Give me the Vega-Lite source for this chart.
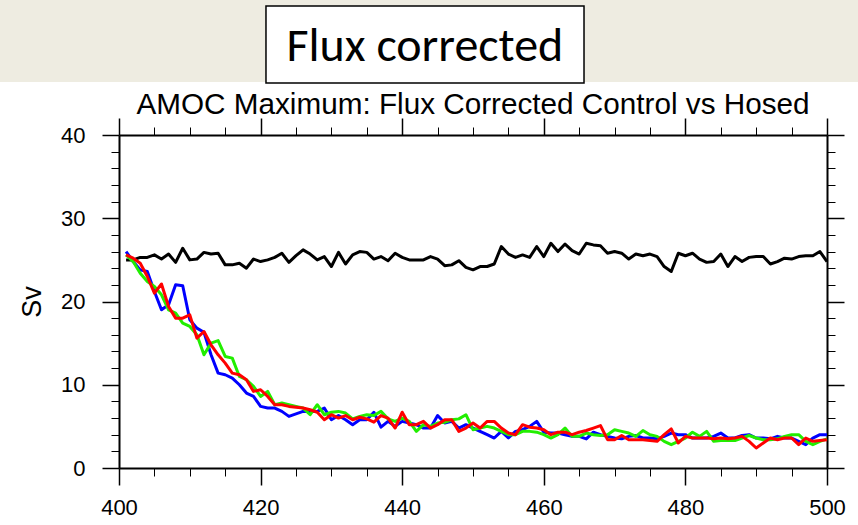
{
  "$schema": "https://vega.github.io/schema/vega-lite/v6.json",
  "autosize": "none",
  "padding": {"left": 119, "top": 135, "right": 31, "bottom": 57},
  "width": 708,
  "height": 333,
  "background": "white",
  "config": {"view": {"stroke": null}},
  "data": {"values": [
    {"year":401,"control":25.0,"hosed1":26.0,"hosed2":25.6,"hosed3":25.6},
    {"year":402,"control":25.0,"hosed1":24.8,"hosed2":24.8,"hosed3":25.2},
    {"year":403,"control":25.3,"hosed1":23.8,"hosed2":23.4,"hosed3":24.6},
    {"year":404,"control":25.3,"hosed1":23.6,"hosed2":22.4,"hosed3":23.0},
    {"year":405,"control":25.6,"hosed1":21.2,"hosed2":21.8,"hosed3":21.0},
    {"year":406,"control":25.1,"hosed1":19.0,"hosed2":20.8,"hosed3":22.1},
    {"year":407,"control":25.7,"hosed1":19.6,"hosed2":19.0,"hosed3":19.4},
    {"year":408,"control":24.7,"hosed1":22.0,"hosed2":18.6,"hosed3":18.0},
    {"year":409,"control":26.4,"hosed1":21.9,"hosed2":17.4,"hosed3":18.0},
    {"year":410,"control":25.0,"hosed1":17.8,"hosed2":17.0,"hosed3":18.4},
    {"year":411,"control":25.1,"hosed1":16.8,"hosed2":16.0,"hosed3":15.6},
    {"year":412,"control":25.9,"hosed1":16.3,"hosed2":13.6,"hosed3":16.4},
    {"year":413,"control":25.7,"hosed1":13.6,"hosed2":15.0,"hosed3":14.8},
    {"year":414,"control":25.8,"hosed1":11.4,"hosed2":15.3,"hosed3":13.6},
    {"year":415,"control":24.4,"hosed1":11.2,"hosed2":13.4,"hosed3":12.6},
    {"year":416,"control":24.4,"hosed1":10.8,"hosed2":13.2,"hosed3":11.4},
    {"year":417,"control":24.6,"hosed1":10.0,"hosed2":11.0,"hosed3":11.2},
    {"year":418,"control":24.0,"hosed1":9.0,"hosed2":10.6,"hosed3":10.6},
    {"year":419,"control":25.1,"hosed1":8.6,"hosed2":9.8,"hosed3":9.2},
    {"year":420,"control":24.8,"hosed1":7.4,"hosed2":8.6,"hosed3":9.4},
    {"year":421,"control":25.0,"hosed1":7.2,"hosed2":9.2,"hosed3":8.6},
    {"year":422,"control":25.3,"hosed1":7.2,"hosed2":7.6,"hosed3":7.6},
    {"year":423,"control":25.8,"hosed1":6.8,"hosed2":7.8,"hosed3":7.6},
    {"year":424,"control":24.7,"hosed1":6.2,"hosed2":7.6,"hosed3":7.4},
    {"year":425,"control":25.5,"hosed1":6.5,"hosed2":7.4,"hosed3":7.3},
    {"year":426,"control":26.2,"hosed1":6.8,"hosed2":7.2,"hosed3":7.2},
    {"year":427,"control":25.7,"hosed1":6.8,"hosed2":6.4,"hosed3":7.0},
    {"year":428,"control":25.0,"hosed1":6.8,"hosed2":7.6,"hosed3":6.7},
    {"year":429,"control":25.4,"hosed1":7.2,"hosed2":6.4,"hosed3":5.8},
    {"year":430,"control":24.2,"hosed1":5.8,"hosed2":6.7,"hosed3":6.4},
    {"year":431,"control":25.9,"hosed1":6.3,"hosed2":6.8,"hosed3":6.0},
    {"year":432,"control":24.5,"hosed1":5.8,"hosed2":6.6,"hosed3":6.3},
    {"year":433,"control":25.6,"hosed1":5.2,"hosed2":5.9,"hosed3":5.8},
    {"year":434,"control":26.0,"hosed1":5.8,"hosed2":6.2,"hosed3":6.1},
    {"year":435,"control":25.9,"hosed1":5.8,"hosed2":6.4,"hosed3":5.9},
    {"year":436,"control":25.1,"hosed1":6.7,"hosed2":6.3,"hosed3":5.5},
    {"year":437,"control":25.4,"hosed1":4.9,"hosed2":6.8,"hosed3":6.3},
    {"year":438,"control":24.9,"hosed1":5.6,"hosed2":5.9,"hosed3":6.0},
    {"year":439,"control":25.8,"hosed1":5.0,"hosed2":5.6,"hosed3":4.8},
    {"year":440,"control":25.3,"hosed1":5.6,"hosed2":6.0,"hosed3":6.7},
    {"year":441,"control":25.0,"hosed1":5.4,"hosed2":5.6,"hosed3":5.2},
    {"year":442,"control":25.0,"hosed1":5.2,"hosed2":4.4,"hosed3":5.2},
    {"year":443,"control":25.0,"hosed1":4.8,"hosed2":5.2,"hosed3":5.6},
    {"year":444,"control":25.4,"hosed1":4.8,"hosed2":5.0,"hosed3":4.8},
    {"year":445,"control":25.1,"hosed1":6.3,"hosed2":5.4,"hosed3":5.2},
    {"year":446,"control":24.3,"hosed1":5.4,"hosed2":5.5,"hosed3":5.8},
    {"year":447,"control":24.4,"hosed1":5.6,"hosed2":5.8,"hosed3":5.8},
    {"year":448,"control":24.9,"hosed1":4.8,"hosed2":5.9,"hosed3":4.4},
    {"year":449,"control":24.1,"hosed1":5.2,"hosed2":6.4,"hosed3":4.8},
    {"year":450,"control":23.8,"hosed1":4.8,"hosed2":4.6,"hosed3":5.4},
    {"year":451,"control":24.2,"hosed1":4.4,"hosed2":4.8,"hosed3":4.8},
    {"year":452,"control":24.2,"hosed1":4.0,"hosed2":5.0,"hosed3":5.6},
    {"year":453,"control":24.5,"hosed1":3.6,"hosed2":4.8,"hosed3":5.6},
    {"year":454,"control":26.6,"hosed1":4.4,"hosed2":4.4,"hosed3":4.8},
    {"year":455,"control":25.7,"hosed1":3.6,"hosed2":4.0,"hosed3":4.2},
    {"year":456,"control":25.3,"hosed1":4.4,"hosed2":4.0,"hosed3":4.0},
    {"year":457,"control":25.6,"hosed1":4.6,"hosed2":4.4,"hosed3":5.2},
    {"year":458,"control":25.3,"hosed1":5.0,"hosed2":4.4,"hosed3":4.9},
    {"year":459,"control":26.6,"hosed1":5.6,"hosed2":4.3,"hosed3":4.8},
    {"year":460,"control":25.4,"hosed1":4.3,"hosed2":4.0,"hosed3":4.6},
    {"year":461,"control":27.0,"hosed1":4.2,"hosed2":3.6,"hosed3":4.0},
    {"year":462,"control":26.0,"hosed1":4.2,"hosed2":4.0,"hosed3":4.3},
    {"year":463,"control":26.9,"hosed1":4.0,"hosed2":4.8,"hosed3":4.3},
    {"year":464,"control":26.1,"hosed1":3.8,"hosed2":3.8,"hosed3":4.0},
    {"year":465,"control":25.7,"hosed1":3.8,"hosed2":3.8,"hosed3":4.3},
    {"year":466,"control":27.0,"hosed1":3.5,"hosed2":4.2,"hosed3":4.5},
    {"year":467,"control":26.8,"hosed1":4.3,"hosed2":4.0,"hosed3":4.8},
    {"year":468,"control":26.7,"hosed1":4.0,"hosed2":3.9,"hosed3":5.1},
    {"year":469,"control":25.8,"hosed1":3.8,"hosed2":4.0,"hosed3":3.4},
    {"year":470,"control":26.0,"hosed1":3.6,"hosed2":4.6,"hosed3":3.4},
    {"year":471,"control":25.8,"hosed1":3.5,"hosed2":4.4,"hosed3":3.9},
    {"year":472,"control":25.1,"hosed1":3.8,"hosed2":4.2,"hosed3":3.4},
    {"year":473,"control":25.7,"hosed1":3.9,"hosed2":3.8,"hosed3":3.4},
    {"year":474,"control":25.5,"hosed1":3.6,"hosed2":4.5,"hosed3":3.4},
    {"year":475,"control":25.7,"hosed1":3.6,"hosed2":4.0,"hosed3":3.3},
    {"year":476,"control":25.4,"hosed1":3.5,"hosed2":3.8,"hosed3":3.2},
    {"year":477,"control":24.2,"hosed1":3.8,"hosed2":3.2,"hosed3":4.0},
    {"year":478,"control":23.6,"hosed1":4.2,"hosed2":2.8,"hosed3":4.7},
    {"year":479,"control":25.8,"hosed1":4.0,"hosed2":3.2,"hosed3":3.0},
    {"year":480,"control":25.5,"hosed1":4.0,"hosed2":3.6,"hosed3":3.8},
    {"year":481,"control":25.8,"hosed1":3.6,"hosed2":4.3,"hosed3":3.6},
    {"year":482,"control":25.1,"hosed1":3.6,"hosed2":3.8,"hosed3":3.6},
    {"year":483,"control":24.7,"hosed1":3.6,"hosed2":4.4,"hosed3":3.6},
    {"year":484,"control":24.8,"hosed1":3.8,"hosed2":3.2,"hosed3":3.5},
    {"year":485,"control":25.7,"hosed1":4.2,"hosed2":3.3,"hosed3":3.6},
    {"year":486,"control":24.2,"hosed1":3.6,"hosed2":3.3,"hosed3":3.5},
    {"year":487,"control":25.4,"hosed1":3.6,"hosed2":3.3,"hosed3":3.6},
    {"year":488,"control":24.8,"hosed1":3.9,"hosed2":3.6,"hosed3":3.8},
    {"year":489,"control":25.3,"hosed1":4.0,"hosed2":3.9,"hosed3":3.2},
    {"year":490,"control":25.4,"hosed1":3.6,"hosed2":3.6,"hosed3":2.4},
    {"year":491,"control":25.4,"hosed1":3.6,"hosed2":3.4,"hosed3":3.0},
    {"year":492,"control":24.5,"hosed1":3.5,"hosed2":3.4,"hosed3":3.6},
    {"year":493,"control":24.8,"hosed1":3.8,"hosed2":3.5,"hosed3":3.4},
    {"year":494,"control":25.2,"hosed1":3.6,"hosed2":3.8,"hosed3":3.6},
    {"year":495,"control":25.1,"hosed1":3.6,"hosed2":4.0,"hosed3":3.6},
    {"year":496,"control":25.4,"hosed1":3.2,"hosed2":4.0,"hosed3":2.8},
    {"year":497,"control":25.5,"hosed1":2.8,"hosed2":3.2,"hosed3":3.6},
    {"year":498,"control":25.5,"hosed1":3.6,"hosed2":2.8,"hosed3":3.2},
    {"year":499,"control":26.0,"hosed1":4.0,"hosed2":3.2,"hosed3":3.3},
    {"year":500,"control":24.8,"hosed1":4.0,"hosed2":3.5,"hosed3":3.4}
  ]},
  "layer": [
    {
      "data": {"values": [{"part": "band"}]},
      "mark": {"type": "rect", "fill": "#EEECE1", "clip": false},
      "encoding": {
        "x": {"datum": 383, "type": "quantitative", "scale": {"domain": [400, 500], "nice": false, "zero": false}, "axis": null},
        "x2": {"datum": 505},
        "y": {"datum": 57, "type": "quantitative", "scale": {"domain": [0, 40], "nice": false}, "axis": null},
        "y2": {"datum": 46.37}
      }
    },
    {
      "data": {"values": [{"part": "box"}]},
      "mark": {"type": "rect", "fill": "white", "stroke": "black", "strokeWidth": 1.5, "clip": false},
      "encoding": {
        "x": {"datum": 420.76, "type": "quantitative", "axis": null},
        "x2": {"datum": 465.68},
        "y": {"datum": 55.5, "type": "quantitative", "axis": null},
        "y2": {"datum": 46.25}
      }
    },
    {
      "data": {"values": [{"label": "Flux corrected"}]},
      "mark": {"type": "text", "font": "Carlito, Lato", "fontSize": 48, "color": "black", "align": "center", "baseline": "middle", "clip": false},
      "encoding": {
        "x": {"datum": 443.2, "type": "quantitative", "axis": null},
        "y": {"datum": 50.6, "type": "quantitative", "axis": null},
        "text": {"field": "label"}
      }
    },
    {
      "data": {"values": [{"label": "AMOC Maximum: Flux Corrected Control vs Hosed"}]},
      "mark": {"type": "text", "font": "Liberation Sans", "fontSize": 29.7, "color": "black", "align": "center", "baseline": "alphabetic", "clip": false},
      "encoding": {
        "x": {"datum": 450, "type": "quantitative", "axis": null},
        "y": {"datum": 42.52, "type": "quantitative", "axis": null},
        "text": {"field": "label"}
      }
    },
    {
      "transform": [{"fold": ["control", "hosed1", "hosed2", "hosed3"], "as": ["run", "sv"]}],
      "mark": {"type": "line", "strokeWidth": 3, "strokeJoin": "round"},
      "encoding": {
        "x": {"field": "year", "type": "quantitative",
          "axis": {"orient": "bottom", "values": [400, 420, 440, 460, 480, 500], "format": "d", "grid": false, "title": null, "domainColor": "black", "domainWidth": 2, "tickColor": "black", "tickWidth": 1.5, "tickSize": 17, "labelFont": "Liberation Sans", "labelFontSize": 22, "labelColor": "black", "labelPadding": 12, "labelFlush": false, "labelOverlap": false}},
        "y": {"field": "sv", "type": "quantitative",
          "axis": {"orient": "left", "values": [0, 10, 20, 30, 40], "grid": false, "title": "Sv", "titleFont": "Liberation Sans", "titleFontSize": 27, "titleFontWeight": "normal", "titleColor": "black", "titlePadding": 14, "domainColor": "black", "domainWidth": 2, "tickColor": "black", "tickWidth": 1.5, "tickSize": 17, "labelFont": "Liberation Sans", "labelFontSize": 22, "labelColor": "black", "labelPadding": 17, "labelFlush": false, "labelOverlap": false}},
        "color": {"field": "run", "type": "nominal", "scale": {"domain": ["control", "hosed1", "hosed2", "hosed3"], "range": ["#000000", "#0000ff", "#22ee00", "#ff0000"]}, "legend": null}
      }
    },
    {
      "transform": [{"fold": ["control", "hosed1", "hosed2", "hosed3"], "as": ["run", "sv"]}],
      "mark": {"type": "line", "opacity": 0},
      "encoding": {
        "x": {"field": "year", "type": "quantitative",
          "axis": {"orient": "top", "values": [400, 420, 440, 460, 480, 500], "labels": false, "grid": false, "title": null, "domainColor": "black", "domainWidth": 2, "tickColor": "black", "tickWidth": 1.5, "tickSize": 17}},
        "y": {"field": "sv", "type": "quantitative",
          "axis": {"orient": "right", "values": [0, 10, 20, 30, 40], "labels": false, "grid": false, "title": null, "domainColor": "black", "domainWidth": 2, "tickColor": "black", "tickWidth": 1.5, "tickSize": 17}},
        "detail": {"field": "run"}
      }
    },
    {
      "transform": [{"fold": ["control", "hosed1", "hosed2", "hosed3"], "as": ["run", "sv"]}],
      "mark": {"type": "line", "opacity": 0},
      "encoding": {
        "x": {"field": "year", "type": "quantitative",
          "axis": {"orient": "bottom", "values": [405, 410, 415, 425, 430, 435, 445, 450, 455, 465, 470, 475, 485, 490, 495], "labels": false, "domain": false, "grid": false, "title": null, "tickColor": "black", "tickWidth": 1, "tickSize": 8}},
        "y": {"field": "sv", "type": "quantitative",
          "axis": {"orient": "left", "values": [2, 4, 6, 8, 12, 14, 16, 18, 22, 24, 26, 28, 32, 34, 36, 38], "labels": false, "domain": false, "grid": false, "title": null, "tickColor": "black", "tickWidth": 1, "tickSize": 8}},
        "detail": {"field": "run"}
      }
    },
    {
      "transform": [{"fold": ["control", "hosed1", "hosed2", "hosed3"], "as": ["run", "sv"]}],
      "mark": {"type": "line", "opacity": 0},
      "encoding": {
        "x": {"field": "year", "type": "quantitative",
          "axis": {"orient": "top", "values": [405, 410, 415, 425, 430, 435, 445, 450, 455, 465, 470, 475, 485, 490, 495], "labels": false, "domain": false, "grid": false, "title": null, "tickColor": "black", "tickWidth": 1, "tickSize": 8}},
        "y": {"field": "sv", "type": "quantitative",
          "axis": {"orient": "right", "values": [2, 4, 6, 8, 12, 14, 16, 18, 22, 24, 26, 28, 32, 34, 36, 38], "labels": false, "domain": false, "grid": false, "title": null, "tickColor": "black", "tickWidth": 1, "tickSize": 8}},
        "detail": {"field": "run"}
      }
    }
  ],
  "resolve": {"axis": {"x": "independent", "y": "independent"}}
}
